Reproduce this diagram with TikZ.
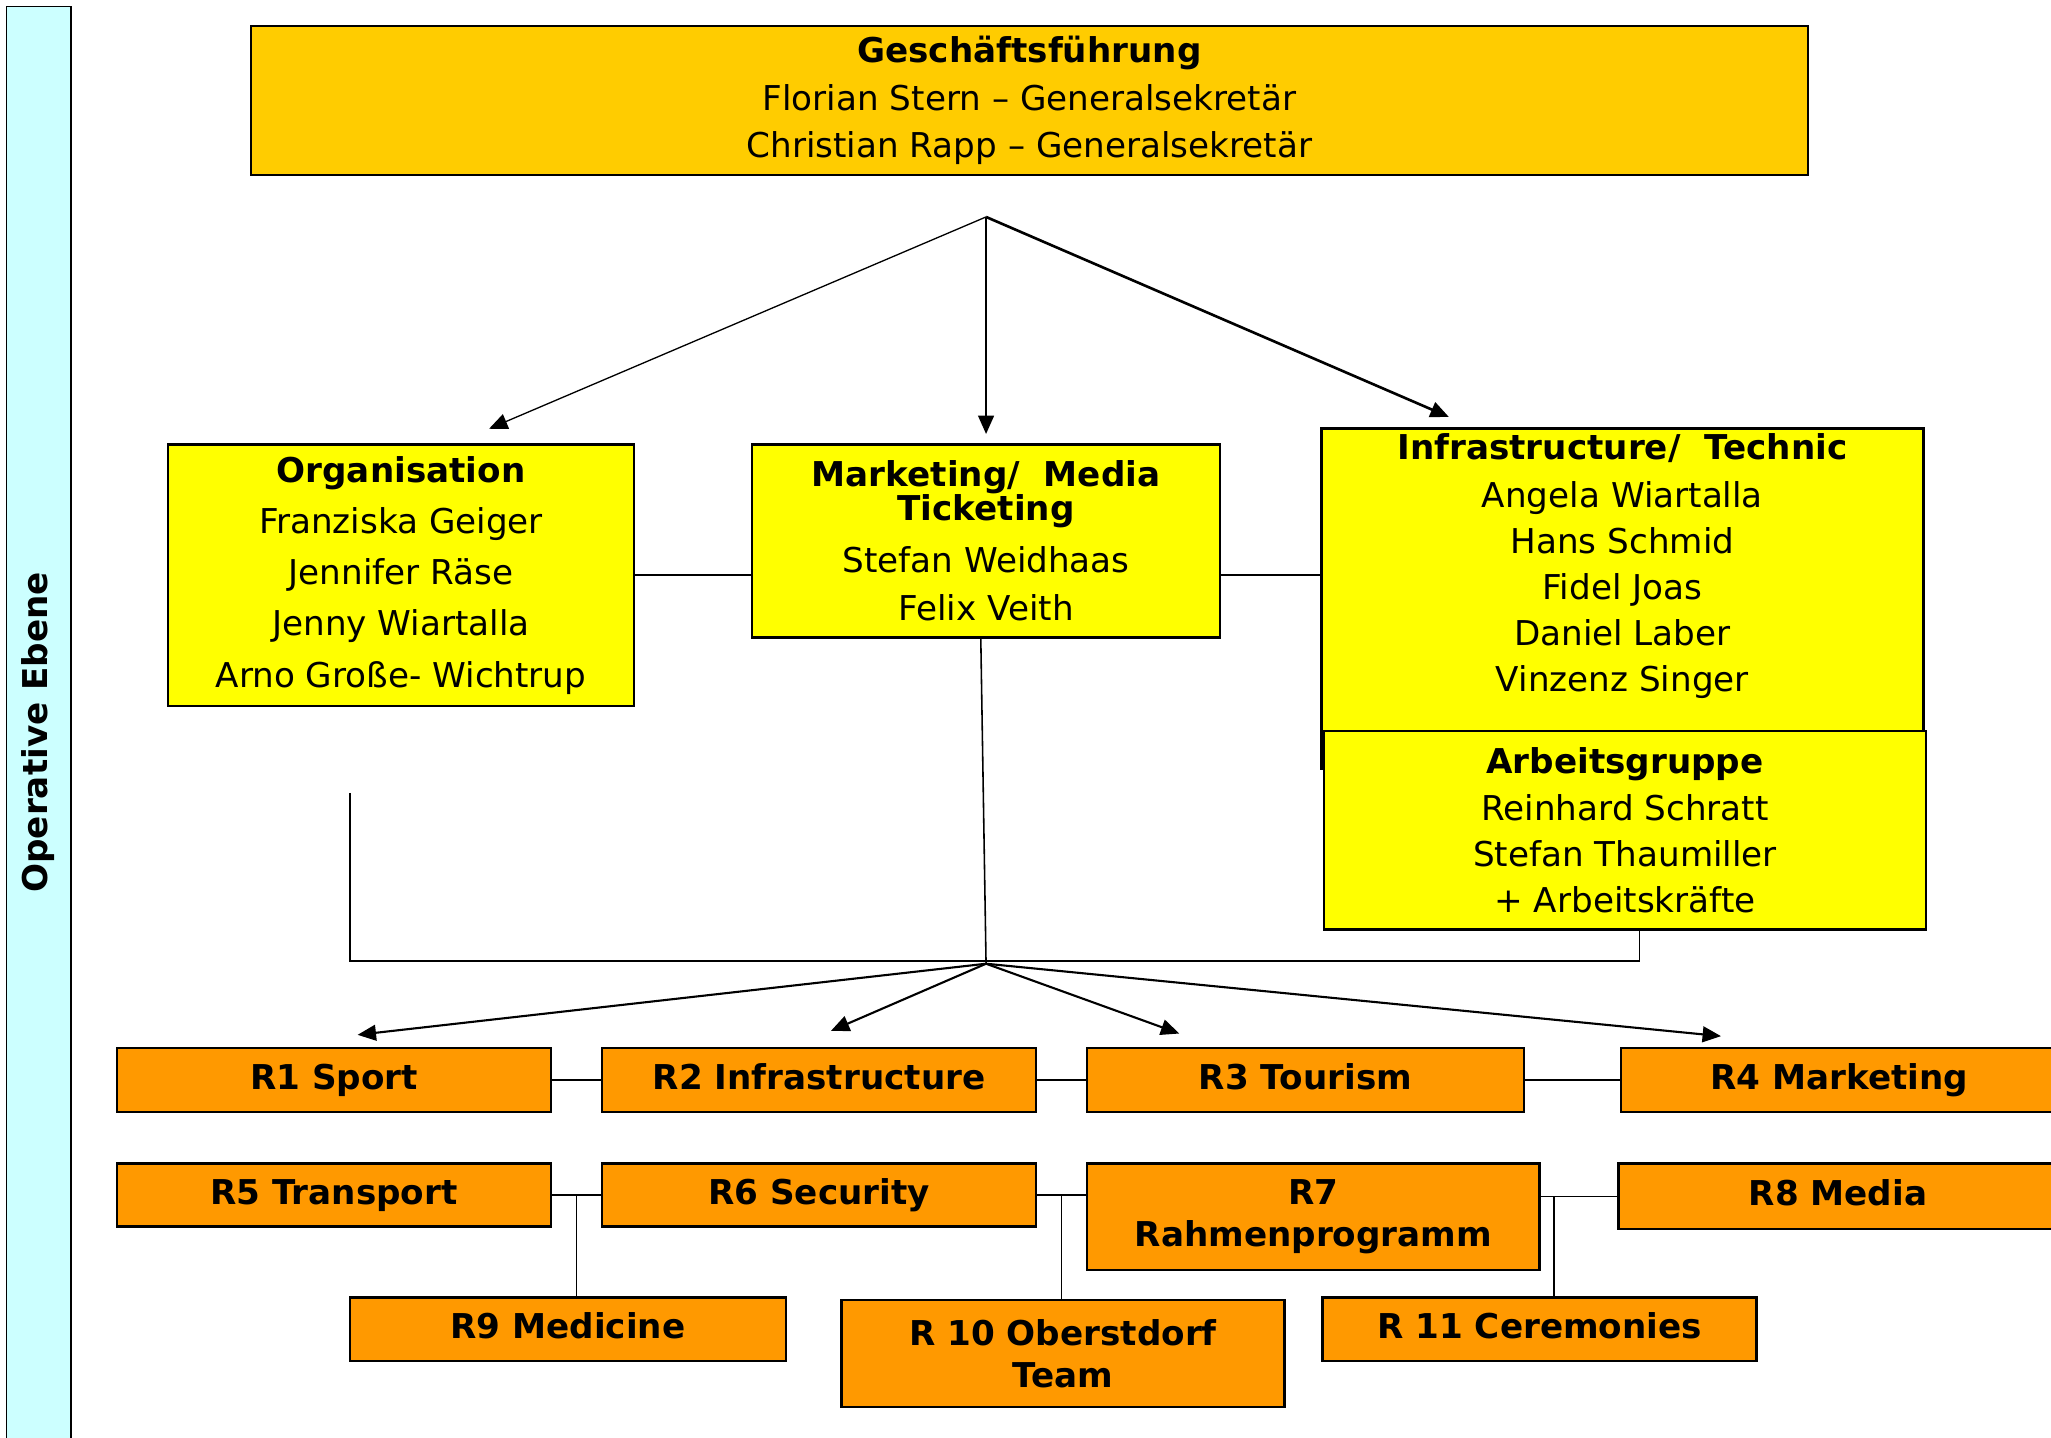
\documentclass[tikz,border=0pt]{standalone}
\usepackage{fontspec}
\setmainfont{DejaVu Sans}
\usepackage{xcolor}
\usetikzlibrary{arrows.meta}
\usetikzlibrary{calc}

\definecolor{gfgold}{HTML}{FFCC00}
\definecolor{teamyellow}{HTML}{FFFF00}
\definecolor{ressortorange}{HTML}{FF9900}
\definecolor{ebenecyan}{HTML}{CCFFFF}

\begin{document}
\begin{tikzpicture}[x=0.5pt,y=-0.5pt,
	box/.style={draw,line width=0.9pt,inner sep=0pt,align=center,font=\fontsize{13}{18}\selectfont},
	leitung/.style={box,fill=gfgold},
	team/.style={box,fill=teamyellow},
	ressort/.style={box,fill=ressortorange,font=\fontsize{13}{16}\selectfont\bfseries},
	ressortline/.style={ressort,text height=9.5pt,text depth=2.5pt},
	link/.style={line width=0.6pt},
	pfeil/.style={line width=0.8pt,-{Triangle[length=7pt,width=6pt]}}]
	\useasboundingbox (0,0) rectangle (1560,1093);
	
	\fill[ebenecyan] (5,5) rectangle (54,1110);
	\draw[line width=0.6pt] (5,1110) -- (5,5) -- (54,5) -- (54,1110);
	\node[rotate=90,font=\fontsize{13}{15}\selectfont\bfseries] (ebene) at (29,557) {Operative Ebene};
	
	\node[leitung,minimum width=592pt,minimum height=56.5pt] (gf) at (783,76.5)
		{\textbf{Geschäftsführung}\\Florian Stern – Generalsekretär\\Christian Rapp – Generalsekretär};
	
	\node[team,minimum width=177pt,minimum height=99.5pt,font=\fontsize{13}{19.5}\selectfont] (org) at (305,437.5)
		{\textbf{Organisation}\\Franziska Geiger\\Jennifer Räse\\Jenny Wiartalla\\Arno Große- Wichtrup};
	\node[team,minimum width=178pt,minimum height=73.5pt] (mkt) at (750,411.5)
		{\textbf{Marketing/\ \ Media}\\[-5pt]\textbf{Ticketing}\\[1.5pt]Stefan Weidhaas\\[0.5pt]Felix Veith};
	\node[team,minimum width=229pt,minimum height=129.5pt] (infra) at (1234,455.5) {};
	\node[anchor=north,align=center,inner sep=0pt,font=\fontsize{13}{17.5}\selectfont] (infratext) at ([yshift=-2pt]infra.north)
		{\textbf{Infrastructure/\ \ Technic}\\[1pt]Angela Wiartalla\\Hans Schmid\\Fidel Joas\\Daniel Laber\\Vinzenz Singer};
	\node[team,minimum width=229pt,minimum height=75.5pt,font=\fontsize{13}{17.5}\selectfont] (ag) at (1236,631.5)
		{\textbf{Arbeitsgruppe}\\Reinhard Schratt\\Stefan Thaumiller\\+ Arbeitskräfte};
	
	\node[ressortline,minimum width=165pt,minimum height=24.5pt] (r1) at (254,821.5) {R1 Sport};
	\node[ressortline,minimum width=165pt,minimum height=24.5pt] (r2) at (623,821.5) {R2 Infrastructure};
	\node[ressortline,minimum width=166pt,minimum height=24.5pt] (r3) at (993,821.5) {R3 Tourism};
	\node[ressortline,minimum width=166pt,minimum height=24.5pt] (r4) at (1399,821.5) {R4 Marketing};
	\node[ressortline,minimum width=165pt,minimum height=24pt] (r5) at (254,909) {R5 Transport};
	\node[ressortline,minimum width=165pt,minimum height=24pt] (r6) at (623,909) {R6 Security};
	\node[ressort,minimum width=172pt,minimum height=40.5pt] (r7) at (999,925.5) {R7\\Rahmenprogramm};
	\node[ressortline,minimum width=167pt,minimum height=25pt] (r8) at (1398,910) {R8 Media};
	\node[ressortline,minimum width=166pt,minimum height=24pt] (r9) at (432,1011) {R9 Medicine};
	\node[ressort,minimum width=168.5pt,minimum height=40.5pt] (r10) at (808.5,1029.5) {R 10 Oberstdorf\\Team};
	\node[ressortline,minimum width=165pt,minimum height=24pt] (r11) at (1171,1011) {R 11 Ceremonies};
	
	\coordinate (gfsplit) at (750,165);
	\draw[pfeil,line width=0.5pt] (gfsplit) -- ([shift={(67,-11)}]org.north);
	\draw[pfeil] (gfsplit) -- ([shift={(0,-7)}]mkt.north);
	\draw[pfeil,line width=1pt] (gfsplit) -- ([shift={(-132,-8)}]infra.north);
	
	\draw[link] (org.east) -- (org.east -| mkt.west);
	\draw[link] (mkt.east |- org.east) -- (org.east -| infra.west);
	
	\coordinate (rsplit) at (750,733);
	\coordinate (orgstub) at (266,603);
	\coordinate (barend) at (1247,731);
	\draw[link] ([xshift=-2pt]mkt.south) -- (rsplit);
	\draw[link] (orgstub) |- (barend) -- (barend |- ag.south);
	
	\draw[pfeil] (rsplit) -- ([shift={(18,-9)}]r1.north);
	\draw[pfeil] (rsplit) -- ([shift={(9,-12)}]r2.north);
	\draw[pfeil] (rsplit) -- ([shift={(-96,-10)}]r3.north);
	\draw[pfeil] (rsplit) -- ([shift={(-90,-8)}]r4.north);
	
	\draw[link] (r1.east) -- (r2.west);
	\draw[link] (r2.east) -- (r3.west);
	\draw[link] (r3.east) -- (r4.west);
	\draw[link] (r5.east) -- (r6.west);
	\draw[link] (r6.east) -- (r6.east -| r7.west);
	\draw[link] (r7.east |- r8.west) -- (r8.west);
	
	\coordinate (j9) at ($(r5.east)!.5!(r6.west)$);
	\coordinate (j10) at ($(r6.east)!.5!(r6.east -| r7.west)$);
	\coordinate (j11) at ($(r7.east |- r8.west)!.17!(r8.west)$);
	\draw[link] (j9) -- (j9 |- r9.north);
	\draw[link] (j10) -- (j10 |- r10.north);
	\draw[link] (j11) -- (j11 |- r11.north);
\end{tikzpicture}
\end{document}
